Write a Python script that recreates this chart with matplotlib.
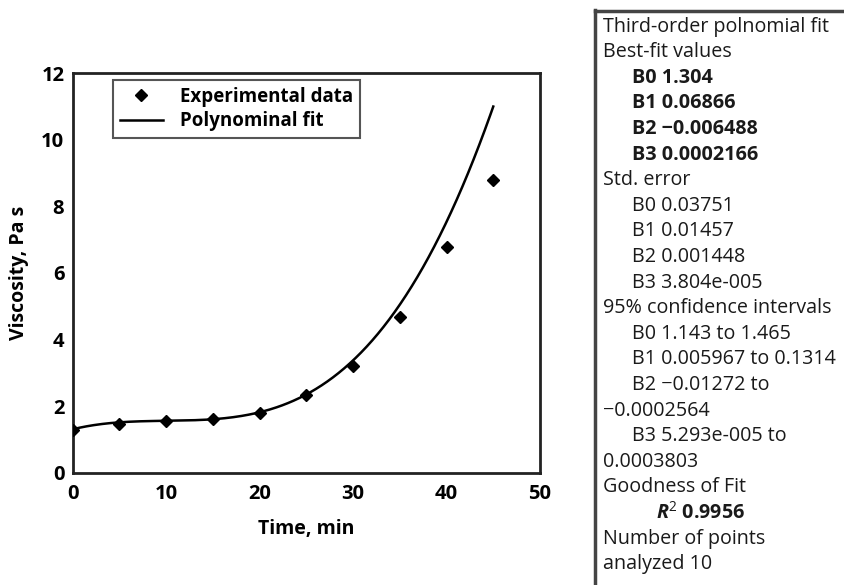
import numpy as np
import matplotlib
matplotlib.use("Agg")
import matplotlib.pyplot as plt

# ---- data ----
time_min = [0, 5, 10, 15, 20, 25, 30, 35, 40, 45]
viscosity = [1.29, 1.47, 1.54, 1.61, 1.78, 2.34, 3.21, 4.67, 6.79, 8.78]
fit_coeffs = [1.304, 0.06866, -0.006488, 0.0002166]  # B0..B3
x_ticks = [0, 10, 20, 30, 40, 50]
y_ticks = [0, 2, 4, 6, 8, 10, 12]

box_lines = [
    ("Third-order polnomial fit", 0, "normal"),
    ("Best-fit values", 0, "normal"),
    ("B0 1.304", 1, "bold"),
    ("B1 0.06866", 1, "bold"),
    ("B2 \u22120.006488", 1, "bold"),
    ("B3 0.0002166", 1, "bold"),
    ("Std. error", 0, "normal"),
    ("B0 0.03751", 1, "normal"),
    ("B1 0.01457", 1, "normal"),
    ("B2 0.001448", 1, "normal"),
    ("B3 3.804e-005", 1, "normal"),
    ("95% confidence intervals", 0, "normal"),
    ("B0 1.143 to 1.465", 1, "normal"),
    ("B1 0.005967 to 0.1314", 1, "normal"),
    ("B2 \u22120.01272 to", 1, "normal"),
    ("\u22120.0002564", 0, "normal"),
    ("B3 5.293e-005 to", 1, "normal"),
    ("0.0003803", 0, "normal"),
    ("Goodness of Fit", 0, "normal"),
    (r"$\mathbfit{R}^{2}$ 0.9956", 2, "bold"),
    ("Number of points", 0, "normal"),
    ("analyzed 10", 0, "normal"),
]

FONT = "Open Sans"
plt.rcParams["font.family"] = [FONT, "DejaVu Sans"]
plt.rcParams["mathtext.fontset"] = "custom"
plt.rcParams["mathtext.bfit"] = FONT + ":bold:italic"
plt.rcParams["mathtext.rm"] = FONT
plt.rcParams["mathtext.bf"] = FONT + ":bold"

W, H = 844, 585
fig = plt.figure(figsize=(W / 100, H / 100), dpi=100)
ax = fig.add_axes([72.7 / W, 1 - 472.7 / H, (540 - 72.7) / W, (472.7 - 73) / H])

xs = np.linspace(time_min[0], time_min[-1], 300)
ys = np.polyval(fit_coeffs[::-1], xs)
ax.plot(xs, ys, color="black", lw=1.8, label="Polynominal fit", zorder=2)
ax.plot(time_min, viscosity, linestyle="none", marker="D", ms=6.5,
        color="black", label="Experimental data", zorder=3)

ax.set_xlim(0, 50)
ax.set_ylim(0, 12)
ax.set_xticks(x_ticks)
ax.set_yticks(y_ticks)
ax.tick_params(length=0, labelsize=14.5)
ax.tick_params(axis="x", pad=8)
ax.tick_params(axis="y", pad=6)
for lab in ax.get_xticklabels() + ax.get_yticklabels():
    lab.set_fontweight("bold")
for s in ax.spines.values():
    s.set_color("#222222")
    s.set_linewidth(2)

ax.set_xlabel("Time, min", fontsize=14, fontweight="bold", labelpad=11)
ax.set_ylabel("Viscosity, Pa s", fontsize=14, fontweight="bold", labelpad=9)

h, l = ax.get_legend_handles_labels()
leg = ax.legend(h[::-1], l[::-1], loc="upper left", bbox_to_anchor=(0.087, 0.982),
                fancybox=False, framealpha=1, edgecolor="#555555",
                prop={"weight": "bold", "size": 13.5}, handlelength=2.3,
                borderpad=0.35, labelspacing=0.25, handletextpad=0.9,
                borderaxespad=0)
leg.get_frame().set_linewidth(1.5)

# ---- right text box ----
bx = 595
fig.add_artist(plt.Line2D([bx / W, bx / W], [1 - 10 / H, 0], transform=fig.transFigure,
                          color="#444444", lw=2.5))
fig.add_artist(plt.Line2D([bx / W, 1], [1 - 10.5 / H, 1 - 10.5 / H], transform=fig.transFigure,
                          color="#444444", lw=2.5))
indents = {0: 603, 1: 631.5, 2: 656}
for i, (txt, ind, wt) in enumerate(box_lines):
    yc = 26.7 + 25.6 * i
    fig.text(indents[ind] / W, 1 - yc / H, txt, fontsize=14.2, fontweight=wt,
             va="center", ha="left", color="#1a1a1a")

fig.savefig("out.png", dpi=100)
